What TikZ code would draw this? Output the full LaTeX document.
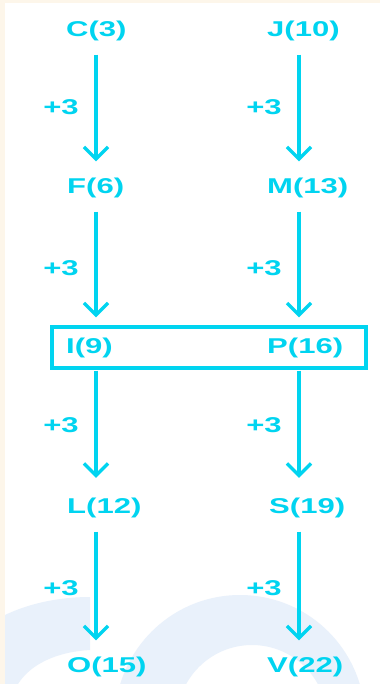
\documentclass[tikz,border=0pt]{standalone}
\usepackage{fontspec}
\usetikzlibrary{arrows.meta}
\newfontfamily\lab[FakeStretch=1.45]{Liberation Sans Bold}
\definecolor{cy}{RGB}{0,212,240}
\definecolor{cream}{RGB}{253,246,234}
\definecolor{wm}{RGB}{233,241,251}
\tikzset{
  lbl/.style={font=\lab\fontsize{21.5}{25}\selectfont, text=cy, inner sep=0pt, anchor=west},
  plus/.style={font=\lab\fontsize{21.5}{25}\selectfont, text=cy, inner sep=0pt},
  arr/.style={draw=cy, line width=3.4bp, -{Straight Barb[length=12bp,width=24bp]}, shorten <=13.5bp, shorten >=16.5bp},
  boxst/.style={draw=cy, line width=3.2bp, minimum width=314bp, minimum height=41bp, inner sep=0pt}
}
\begin{document}
\begin{tikzpicture}[x=1bp,y=-1bp]
\useasboundingbox (0,0) rectangle (380,684);
\fill[cream] (0,0) rectangle (380,684);
\fill[white] (5,3) rectangle (380,684);
% watermark
\begin{scope}
\clip (5,3) rectangle (380,684);
\fill[wm,even odd rule] (240,720) circle (125) (252,720) circle (75);
\fill[wm] (5,615) .. controls (30,603) and (60,597) .. (90,597) -- (90,650) .. controls (55,652) and (30,665) .. (18,684) -- (5,684) -- cycle;
\end{scope}
% column coordinates
\coordinate (colL) at (96,0);
\coordinate (colR) at (299,0);
% nodes
\node[lbl] (C) at (66,31) {C(3)};
\node[lbl] (J) at (267,31) {J(10)};
\node[lbl] (F) at (67,188) {F(6)};
\node[lbl] (M) at (267,188) {M(13)};
\node[boxst] (box) at (209,347.5) {};
\node[lbl] (I) at (66,348) {I(9)};
\node[lbl] (P) at (267,348) {P(16)};
\node[lbl] (L) at (67,508) {L(12)};
\node[lbl] (S) at (269,508) {S(19)};
\node[lbl] (O) at (67,667) {O(15)};
\node[lbl] (V) at (267,667) {V(22)};
% +3 labels
\node[plus] (p1) at (61,107.5) {+3};
\node[plus] (p2) at (264,107.5) {+3};
\node[plus] (p3) at (61,268) {+3};
\node[plus] (p4) at (264,268) {+3};
\node[plus] (p5) at (61,425) {+3};
\node[plus] (p6) at (264,425) {+3};
\node[plus] (p7) at (61,588) {+3};
\node[plus] (p8) at (264,588) {+3};
% arrows
\draw[arr] (C.south -| colL) -- (F.north -| colL);
\draw[arr] (J.south -| colR) -- (M.north -| colR);
\draw[arr, shorten >=8bp] (F.south -| colL) -- (box.north -| colL);
\draw[arr, shorten >=8bp] (M.south -| colR) -- (box.north -| colR);
\draw[arr, shorten <=1bp, shorten >=20bp] (box.south -| colL) -- (L.north -| colL);
\draw[arr, shorten <=1bp, shorten >=20bp] (box.south -| colR) -- (S.north -| colR);
\draw[arr] (L.south -| colL) -- (O.north -| colL);
\draw[arr] (S.south -| colR) -- (V.north -| colR);
\end{tikzpicture}
\end{document}
